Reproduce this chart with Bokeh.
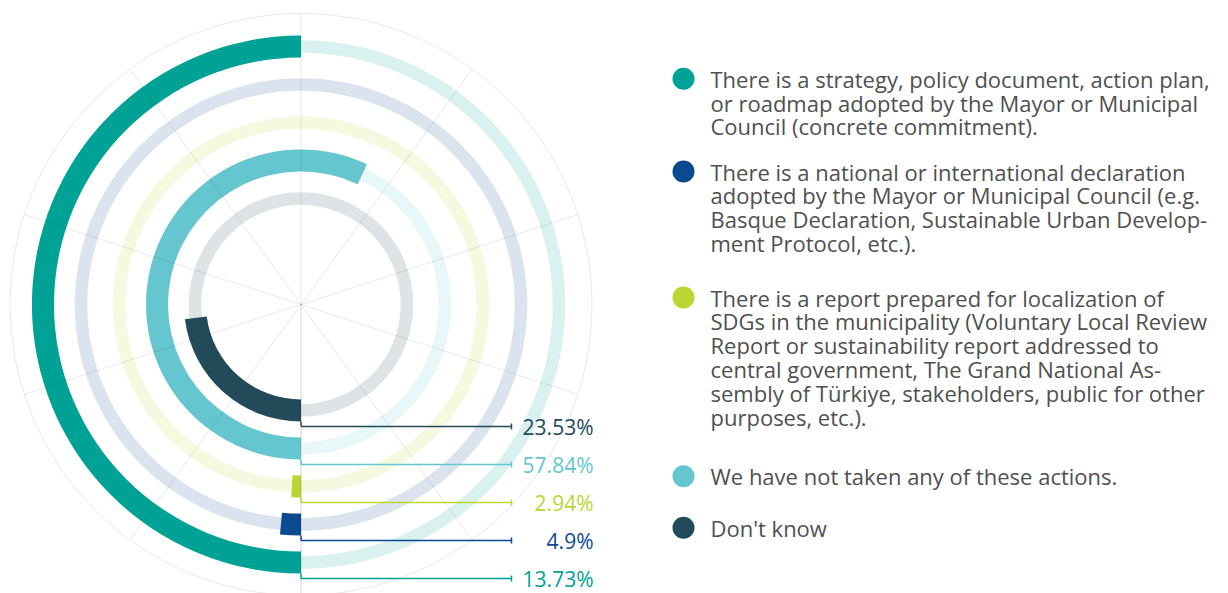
import numpy as np
from bokeh.plotting import figure
from bokeh.models import Range1d
from bokeh.embed import file_html
from bokeh.resources import INLINE
from bokeh.core.properties import value

# ---------------- data ----------------
categories = [
    "There is a strategy, policy document, action plan, or roadmap adopted by the Mayor or Municipal Council (concrete commitment).",
    "There is a national or international declaration adopted by the Mayor or Municipal Council (e.g. Basque Declaration, Sustainable Urban Development Protocol, etc.).",
    "There is a report prepared for localization of SDGs in the municipality (Voluntary Local Review Report or sustainability report addressed to central government, The Grand National Assembly of Türkiye, stakeholders, public for other purposes, etc.).",
    "We have not taken any of these actions.",
    "Don't know",
]
legend_lines = [
    ["There is a strategy, policy document, action plan,",
     "or roadmap adopted by the Mayor or Municipal",
     "Council (concrete commitment)."],
    ["There is a national or international declaration",
     "adopted by the Mayor or Municipal Council (e.g.",
     "Basque Declaration, Sustainable Urban Develop-",
     "ment Protocol, etc.)."],
    ["There is a report prepared for localization of",
     "SDGs in the municipality (Voluntary Local Review",
     "Report or sustainability report addressed to",
     "central government, The Grand National As-",
     "sembly of Türkiye, stakeholders, public for other",
     "purposes, etc.)."],
    ["We have not taken any of these actions."],
    ["Don't know"],
]
label_values = [13.73, 4.9, 2.94, 57.84, 23.53]          # printed labels (%)
drawn_share = [50.0, 1.45, 0.8, 57.0, 23.0]              # share of full circle drawn (%)
colors = ["#00A295", "#0C4A8F", "#BBD532", "#66C6CF", "#234A59"]

# ---------------- layout ----------------
W, H = 1228, 593
def Y(sy):
    return H - sy

p = figure(width=W, height=H, x_range=Range1d(0, W), y_range=Range1d(0, H),
           output_backend="svg", toolbar_location=None,
           x_axis_location=None, y_axis_location=None, min_border=0,
           outline_line_color=None)
p.xgrid.visible = False
p.ygrid.visible = False
p.background_fill_color = "white"
p.border_fill_color = "white"

cx, cy = 300.5, Y(304)
radii = [258, 220, 182, 144, 106]
value_half = 11
track_half = 6.3
grid_r = 291

# background tracks
for r, c in zip(radii, colors):
    p.annulus(x=cx, y=cy, inner_radius=r - track_half, outer_radius=r + track_half,
              fill_color=c, fill_alpha=0.15, line_color=None)

# value arcs: start at bottom and run clockwise
start = np.pi * 1.5
for r, c, s in zip(radii, colors, drawn_share):
    ext = s / 100 * 2 * np.pi
    p.annular_wedge(x=cx, y=cy, inner_radius=r - value_half, outer_radius=r + value_half,
                    start_angle=start - ext, end_angle=start,
                    fill_color=c, line_color=None)

# polar grid on top
angs = np.deg2rad(np.arange(0, 360, 36)) + np.pi / 2
p.segment(x0=[cx] * len(angs), y0=[cy] * len(angs),
          x1=list(cx + grid_r * np.cos(angs)), y1=list(cy + grid_r * np.sin(angs)),
          line_color="black", line_alpha=0.09, line_width=1)
p.segment(x0=[cx], y0=[cy], x1=[cx], y1=[cy - 400], line_color="black", line_alpha=0.09, line_width=1)
p.circle(x=cx, y=cy, radius=grid_r, fill_color=None, line_color="black",
         line_alpha=0.09, line_width=1)

# leader lines and value labels
tick_x = 511
for r, c, v in zip(radii, colors, label_values):
    ly = cy - (r + 16)
    p.segment(x0=[cx, cx, tick_x], y0=[cy - (r + value_half), ly, ly - 3],
              x1=[cx, tick_x, tick_x], y1=[ly, ly, ly + 3],
              line_color=c, line_width=1.5)
    p.text(x=[593], y=[ly], text=[f"{v:g}%"], text_color=c,
           text_font=value("Open Sans"), text_font_size="21px",
           text_align="right", text_baseline="middle")

# legend
first_y = [78.3, 171, 297, 475.7, 527.3]
line_h = 23.8
for lines, c, fy in zip(legend_lines, colors, first_y):
    p.scatter(x=[683], y=[Y(fy)], size=22, marker="circle", fill_color=c, line_color=None)
    ys = [Y(fy + k * line_h) for k in range(len(lines))]
    p.text(x=[710] * len(lines), y=ys, text=lines, text_color="#505050",
           text_font=value("Open Sans"), text_font_size="22px",
           text_align="left", text_baseline="middle")

open("out.html", "w").write(file_html(p, INLINE))
